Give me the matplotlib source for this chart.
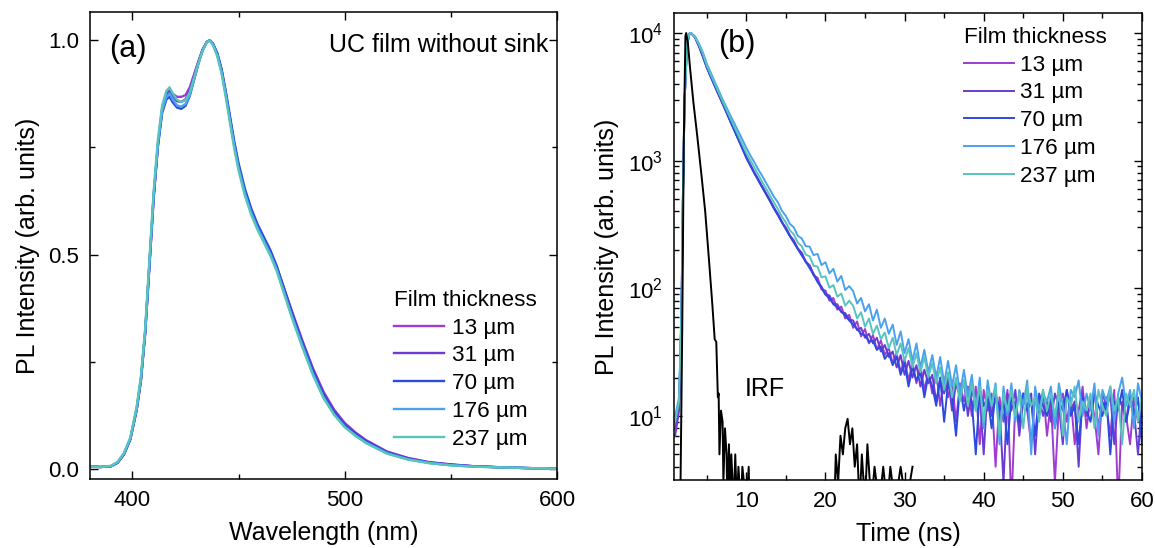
import numpy as np
import matplotlib
matplotlib.use("Agg")
import matplotlib.pyplot as plt
from matplotlib.ticker import MultipleLocator, LogLocator, NullFormatter

plt.rcParams['font.family'] = ['Liberation Sans', 'DejaVu Sans']
plt.rcParams['mathtext.default'] = 'regular'

# legend labels and colours
labels = ['13 µm', '31 µm', '70 µm', '176 µm', '237 µm']
colors = ['#a03ccf', '#6b3bd3', '#2d4ae0', '#4aa2ef', '#57c4bd']

# (a) PL spectra, normalised
wavelength = [380, 385, 390, 393, 396, 399, 402, 404, 406, 408,
              410, 412, 414, 416, 417.5, 419, 421, 423, 425, 427,
              429, 431, 433, 435, 436.5, 438, 440, 442, 444, 446,
              448, 450, 453, 456, 459, 462, 465, 468, 471, 475,
              480, 485, 490, 495, 500, 505, 510, 520, 530, 540,
              550, 560, 575, 590, 600]

pl_13 = [0.006, 0.004, 0.006, 0.014, 0.033, 0.068, 0.137, 0.205, 0.315, 0.47,
         0.63, 0.755, 0.84, 0.875, 0.883, 0.875, 0.868, 0.868, 0.872, 0.89,
         0.92, 0.95, 0.978, 0.996, 1.0, 0.99, 0.967, 0.93, 0.875, 0.815,
         0.755, 0.705, 0.645, 0.60, 0.565, 0.535, 0.505, 0.47, 0.428, 0.37,
         0.30, 0.235, 0.18, 0.138, 0.107, 0.085, 0.067, 0.04, 0.025, 0.015,
         0.01, 0.006, 0.003, 0.001, 0.0]
pl_31 = [0.005, 0.004, 0.006, 0.014, 0.034, 0.069, 0.138, 0.207, 0.317, 0.475,
         0.635, 0.757, 0.838, 0.872, 0.88, 0.868, 0.858, 0.856, 0.862, 0.882,
         0.915, 0.948, 0.977, 0.996, 1.0, 0.991, 0.968, 0.93, 0.876, 0.816,
         0.757, 0.707, 0.647, 0.602, 0.566, 0.536, 0.506, 0.47, 0.426, 0.367,
         0.297, 0.232, 0.176, 0.135, 0.104, 0.083, 0.065, 0.039, 0.024, 0.015,
         0.01, 0.006, 0.003, 0.001, 0.0]
pl_70 = [0.005, 0.004, 0.006, 0.014, 0.034, 0.069, 0.139, 0.208, 0.318, 0.476,
         0.635, 0.752, 0.83, 0.862, 0.868, 0.855, 0.843, 0.84, 0.847, 0.87,
         0.907, 0.944, 0.976, 0.996, 1.0, 0.992, 0.97, 0.933, 0.88, 0.822,
         0.763, 0.713, 0.653, 0.607, 0.57, 0.54, 0.51, 0.473, 0.427, 0.366,
         0.295, 0.229, 0.173, 0.132, 0.102, 0.081, 0.064, 0.038, 0.023, 0.014,
         0.009, 0.006, 0.003, 0.001, 0.0]
pl_176 = [0.005, 0.004, 0.006, 0.015, 0.035, 0.07, 0.14, 0.21, 0.32, 0.48,
          0.64, 0.758, 0.836, 0.868, 0.876, 0.862, 0.848, 0.845, 0.851, 0.872,
          0.908, 0.944, 0.975, 0.995, 1.0, 0.99, 0.966, 0.927, 0.872, 0.812,
          0.752, 0.702, 0.642, 0.597, 0.561, 0.531, 0.501, 0.465, 0.419, 0.358,
          0.288, 0.222, 0.167, 0.127, 0.098, 0.078, 0.061, 0.036, 0.022, 0.013,
          0.008, 0.005, 0.003, 0.001, 0.0]
pl_237 = [0.005, 0.004, 0.007, 0.016, 0.037, 0.073, 0.145, 0.216, 0.327, 0.488,
          0.648, 0.768, 0.848, 0.882, 0.89, 0.876, 0.861, 0.856, 0.86, 0.878,
          0.912, 0.946, 0.975, 0.995, 1.0, 0.988, 0.962, 0.922, 0.866, 0.806,
          0.746, 0.696, 0.637, 0.592, 0.557, 0.527, 0.497, 0.461, 0.415, 0.354,
          0.284, 0.219, 0.165, 0.126, 0.097, 0.077, 0.06, 0.035, 0.021, 0.013,
          0.008, 0.005, 0.003, 0.001, 0.0]

# (b) PL decays (counts)
time = [1.0, 1.5, 1.8, 2.0, 2.2, 2.5, 2.8, 3.0] + list(np.arange(3.5, 60.01, 0.5))

dec_13 = [8, 12, 60, 600, 3000, 8000, 9800, 10000,
          9300, 7950, 6600, 5400, 4570, 3890, 3310, 2820, 2400, 2040,
          1740, 1480, 1260, 1070, 933, 813, 716, 631, 556, 490,
          428, 383, 331, 298, 258, 238, 204, 190, 160, 152,
          126, 121, 98, 96, 80, 84, 68, 72, 58, 62,
          49, 55, 42, 48, 37, 43, 33, 39, 30, 34,
          26, 31, 22, 28, 19, 26, 18, 25, 16, 22,
          15, 22, 12, 20, 14, 19, 9, 18, 13, 17,
          10, 17, 6, 16, 11, 15, 4, 14, 9, 16,
          2, 13, 8, 15, 11, 6, 14, 10, 16, 7,
          13, 3, 12, 15, 9, 14, 6, 11, 17, 8,
          14, 10, 5, 15, 12, 7, 16, 2, 13, 10,
          6, 14, 9, 12]
dec_31 = [7, 11, 55, 580, 2950, 7900, 9800, 10000,
          9280, 7920, 6580, 5380, 4560, 3880, 3300, 2810, 2390, 2030,
          1730, 1470, 1250, 1060, 925, 806, 710, 625, 551, 486,
          425, 378, 330, 296, 260, 232, 206, 188, 163, 150,
          130, 114, 103, 90, 88, 76, 75, 65, 64, 57,
          56, 47, 49, 41, 44, 37, 41, 32, 36, 29,
          32, 24, 30, 21, 27, 20, 25, 17, 23, 18,
          21, 13, 19, 15, 20, 11, 18, 14, 19, 10,
          16, 12, 15, 5, 17, 10, 14, 12, 3, 15,
          11, 16, 7, 13, 12, 15, 5, 14, 10, 13,
          9, 15, 12, 6, 16, 11, 13, 4, 15, 10,
          12, 16, 8, 13, 11, 15, 6, 14, 12, 9,
          15, 11, 5, 13]
dec_70 = [9, 13, 65, 620, 3050, 8100, 9900, 10000,
          9250, 7900, 6550, 5350, 4530, 3850, 3270, 2790, 2370, 2010,
          1710, 1455, 1240, 1050, 915, 798, 702, 618, 545, 480,
          420, 372, 328, 290, 256, 228, 203, 181, 162, 144,
          128, 112, 101, 89, 84, 75, 71, 66, 61, 56,
          52, 48, 44, 43, 38, 39, 33, 35, 28, 31,
          25, 29, 21, 26, 17, 24, 19, 22, 14, 21,
          17, 12, 20, 9, 18, 14, 7, 17, 11, 16,
          13, 5, 16, 12, 14, 8, 15, 11, 13, 6,
          14, 12, 9, 15, 11, 13, 7, 15, 12, 10,
          14, 8, 13, 11, 16, 10, 12, 6, 14, 11,
          9, 15, 12, 10, 14, 5, 13, 11, 16, 9,
          13, 10, 14, 6]
dec_176 = [10, 14, 70, 640, 3100, 8200, 9900, 10000,
           9440, 8300, 7080, 5750, 4900, 4170, 3550, 3020, 2610, 2250,
           1950, 1690, 1460, 1260, 1100, 975, 855, 760, 670, 590,
           520, 470, 405, 368, 320, 300, 258, 246, 214, 212,
           182, 186, 152, 160, 131, 142, 113, 125, 97, 104,
           95, 76, 84, 66, 75, 56, 68, 49, 58, 44,
           52, 36, 46, 31, 40, 27, 37, 24, 33, 22,
           30, 20, 29, 18, 27, 17, 25, 15, 23, 14,
           21, 11, 20, 8, 19, 12, 18, 6, 17, 10,
           18, 9, 16, 12, 19, 5, 17, 11, 15, 13,
           17, 8, 18, 12, 6, 16, 14, 19, 10, 15,
           11, 18, 7, 16, 13, 17, 9, 15, 20, 12,
           16, 8, 18, 13]
dec_237 = [9, 13, 62, 610, 3000, 8050, 9850, 10000,
           9330, 8130, 6920, 5560, 4730, 4030, 3430, 2920, 2500, 2140,
           1830, 1570, 1340, 1150, 1010, 887, 778, 684, 603, 533,
           468, 418, 362, 328, 285, 265, 228, 214, 184, 178,
           150, 148, 122, 124, 101, 106, 86, 91, 73, 80,
           73, 58, 65, 50, 58, 44, 51, 40, 45, 34,
           41, 30, 37, 27, 34, 24, 31, 22, 29, 20,
           26, 18, 24, 16, 22, 14, 20, 13, 19, 12,
           18, 11, 17, 9, 16, 12, 17, 7, 15, 11,
           16, 10, 15, 8, 17, 12, 14, 9, 16, 11,
           15, 10, 16, 7, 14, 12, 17, 9, 13, 11,
           15, 8, 16, 12, 10, 17, 11, 14, 6, 15,
           12, 16, 9, 14]

# instrument response function
t_irf = [1.0, 1.6, 1.9, 2.1, 2.3, 2.4, 2.6, 2.9, 3.3, 3.8,
         4.3, 4.8, 5.3, 5.7, 6.0, 6.2, 6.4, 6.5, 6.6, 6.8,
         7.0, 7.1, 7.3, 7.5, 7.6, 7.8, 8.0, 8.1, 8.4, 8.6,
         8.8, 9.0, 9.3, 9.5, 10.0, 10.3, 10.5, 21.0, 21.3, 21.6,
         21.9, 22.2, 22.5, 22.8, 23.1, 23.4, 23.7, 24.0, 24.3, 24.6,
         25.0, 25.3, 25.8, 26.2, 26.8, 27.3, 27.8, 28.2, 28.8, 29.5,
         30.2, 31.0]
irf = [1, 1, 50, 1500, 9500, 10000, 8500, 5200, 2900, 1550,
       800, 400, 160, 75, 40, 38, 14, 15, 5, 11,
       9, 3, 8, 5, 2, 6, 2, 5, 2, 5,
       2, 4, 2, 4, 2, 4, 1, 1, 5, 3,
       7, 5, 8, 9.5, 6, 8, 4, 6, 2, 5,
       2, 6, 2, 4, 2, 4, 2, 4, 2, 4,
       2, 4]

fig = plt.figure(figsize=(11.55, 5.48), dpi=100)
ax1 = fig.add_axes([0.0779, 0.1259, 0.4043, 0.8522])
ax2 = fig.add_axes([0.5835, 0.1241, 0.4052, 0.8522])

for ys, c, lab in zip([pl_13, pl_31, pl_70, pl_176, pl_237], colors, labels):
    ax1.plot(wavelength, ys, color=c, lw=1.7, label=lab)

ax1.set_xlim(380, 600)
ax1.set_ylim(-0.024, 1.066)
ax1.xaxis.set_major_locator(MultipleLocator(100))
ax1.xaxis.set_minor_locator(MultipleLocator(50))
ax1.yaxis.set_major_locator(MultipleLocator(0.5))
ax1.yaxis.set_minor_locator(MultipleLocator(0.25))
ax1.set_xlabel('Wavelength (nm)', fontsize=18, labelpad=7)
ax1.set_ylabel('PL Intensity (arb. units)', fontsize=18, labelpad=6)
ax1.text(0.041, 0.921, '(a)', transform=ax1.transAxes, fontsize=22, va='center', ha='left')
ax1.text(0.981, 0.929, 'UC film without sink', transform=ax1.transAxes, fontsize=18,
         va='center', ha='right')
ax1.legend(title='Film thickness', loc='upper left', bbox_to_anchor=(0.652, 0.405),
           frameon=False, fontsize=16.2, title_fontsize=16.2, handlelength=2.2,
           labelspacing=0.3, handletextpad=0.35, borderpad=0, borderaxespad=0,
           alignment='left')

for ys, c, lab in zip([dec_13, dec_31, dec_70, dec_176, dec_237], colors, labels):
    ax2.plot(time, ys, color=c, lw=1.4, label=lab)
ax2.plot(t_irf, irf, color='black', lw=1.4)

ax2.set_yscale('log')
ax2.set_xlim(0.85, 60)
ax2.set_ylim(3.15, 14350)
ax2.xaxis.set_major_locator(MultipleLocator(10))
ax2.xaxis.set_minor_locator(MultipleLocator(5))
ax2.yaxis.set_minor_locator(LogLocator(base=10, subs=np.arange(2, 10)))
ax2.yaxis.set_minor_formatter(NullFormatter())
ax2.set_xlabel('Time (ns)', fontsize=18, labelpad=7)
ax2.set_ylabel('PL Intensity (arb. units)', fontsize=18, labelpad=6)
ax2.text(0.094, 0.934, '(b)', transform=ax2.transAxes, fontsize=22, va='center', ha='left')
ax2.text(9.8, 16.3, 'IRF', fontsize=18, va='center', ha='left')
ax2.legend(title='Film thickness', loc='upper left', bbox_to_anchor=(0.62, 0.97),
           frameon=False, fontsize=16.2, title_fontsize=16.2, handlelength=2.2,
           labelspacing=0.3, handletextpad=0.3, borderpad=0, borderaxespad=0,
           alignment='left')

for ax in (ax1, ax2):
    ax.tick_params(which='both', direction='in', top=True, right=True, labelsize=16,
                   width=1, pad=8)
    ax.tick_params(which='major', length=6)
    ax.tick_params(which='minor', length=3.5)
    for s in ax.spines.values():
        s.set_linewidth(1.1)

fig.savefig('out.png', dpi=100)
